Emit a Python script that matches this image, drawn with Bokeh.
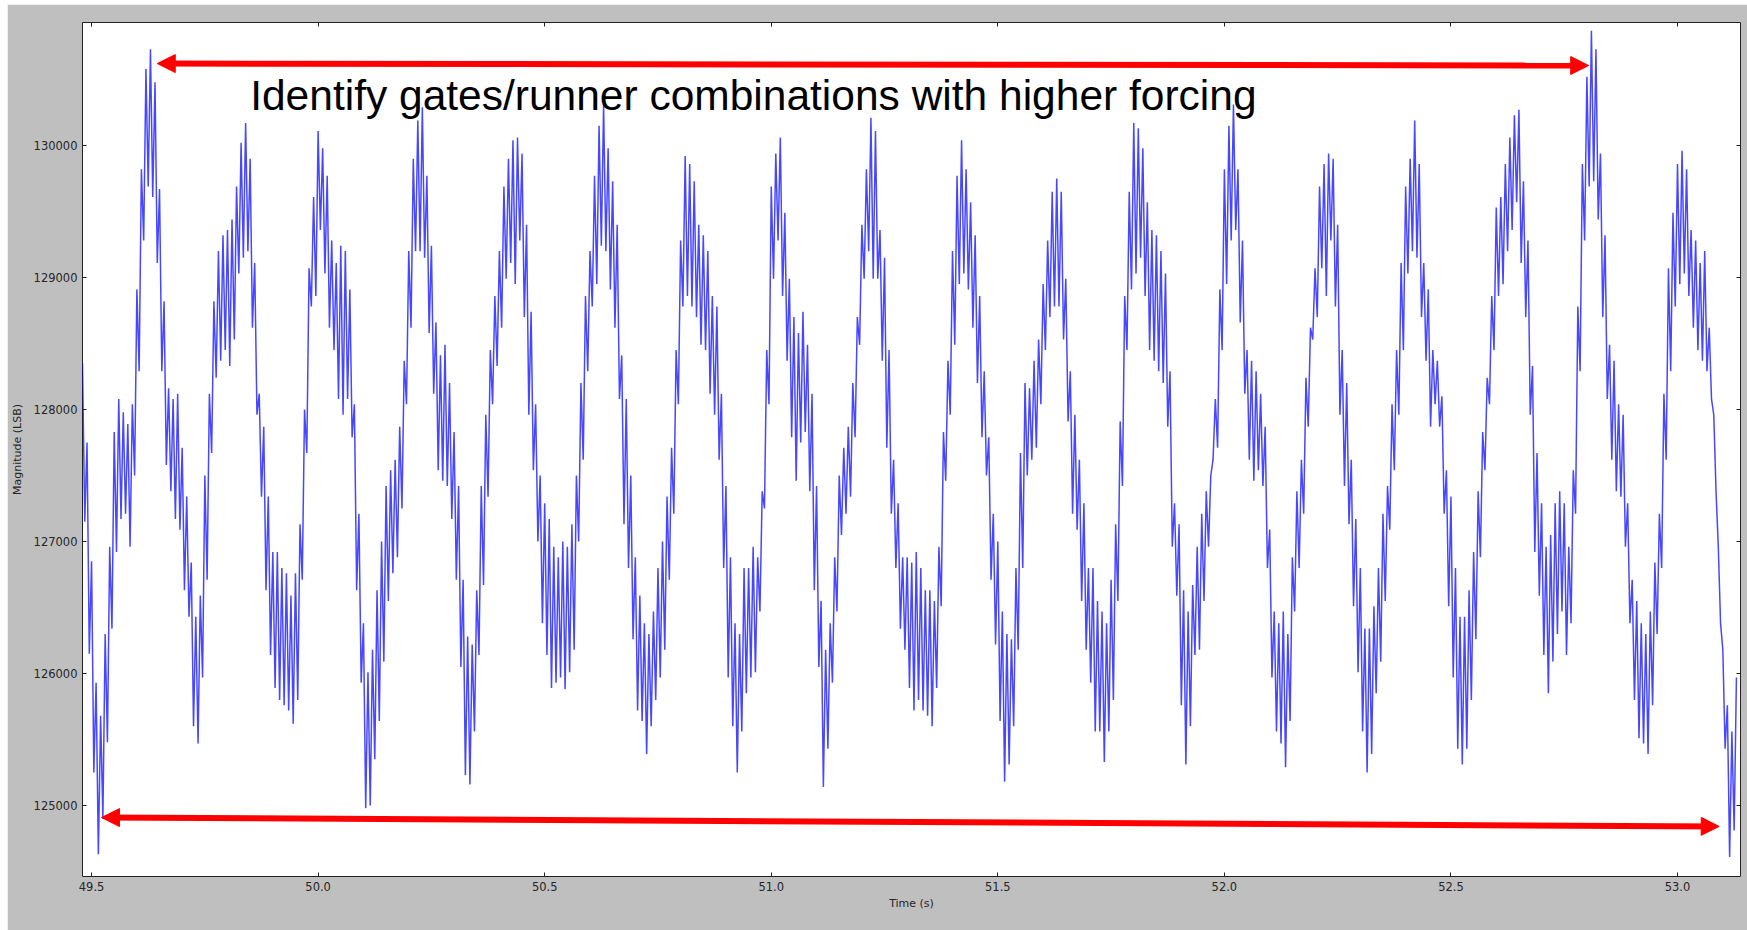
from bokeh.plotting import figure
from bokeh.models import Range1d, LinearAxis, FixedTicker, Label, Arrow, NormalHead
from bokeh.embed import file_html
from bokeh.resources import INLINE

# ---- data ----
t_start = 49.48          # s, first sample
sample_step = 0.005      # s between samples

magnitude_part1 = [
    128350, 127150, 127750, 126150, 126850, 125250, 125930, 124630, 125680, 124900,
    126300, 125480, 126960, 126340, 127830, 126920, 128080, 127170, 127980, 127210,
    127890, 126960, 128040, 127500, 128910, 128290, 129820, 129280, 130580, 129690,
    130730, 129610, 130480, 129110, 129670, 128290, 128820, 127580, 128160, 127380,
    128080, 127170, 128120, 127090, 127710, 126630, 127340, 126430, 126840, 125600,
    126430, 125470, 126590, 125970, 127500, 126710, 128120, 127670, 128820, 128240,
    129200, 128370, 129320, 128450, 129360, 128330, 129440, 128530, 129690, 129030,
    130020, 129150, 130170, 129200, 129900, 128620, 129110, 127960, 128120, 127340,
    127870, 126630, 127340, 126140, 126920, 125890, 126920, 125800, 126800, 125760,
    126760, 125720, 126590, 125620, 126760, 125800, 127130, 126710, 128000, 127670]
magnitude_part2 = [
    129070, 128780, 129610, 128860, 130110, 129360, 129980, 129030, 129770, 128620,
    129280, 128450, 129110, 128080, 129240, 127960, 129200, 128080, 128910, 127790,
    128040, 126630, 127210, 125930, 126380, 124980, 126010, 125000, 126180, 125350,
    126630, 125640, 127000, 126090, 127420, 126550, 127540, 126760, 127620, 126880,
    127870, 127250, 128370, 128040, 129200, 128620, 129900, 129200, 130190, 129200,
    130290, 129150, 129770, 128580, 129240, 128120, 128660, 127540, 128410, 127460,
    128490, 127420, 128200, 127170, 127830, 126710, 127420, 126050, 126710, 125230,
    126280, 125160, 126220, 125560, 126630, 126140, 127420, 126670, 127960, 127340,
    128450, 128040, 128860, 128330, 129200, 128620, 129690, 128990, 129900, 129110,
    130040, 128950, 130060, 129280, 129940, 128700, 129400, 127960, 128740, 127540]
magnitude_part3 = [
    128040, 127000, 127500, 126380, 127290, 126140, 127170, 125890, 126960, 125930,
    126880, 125970, 127000, 125880, 126960, 126010, 127130, 126180, 127500, 127000,
    128200, 127620, 128860, 128290, 129200, 128780, 129770, 128950, 130150, 129240,
    130310, 129200, 129980, 128910, 129730, 128620, 129400, 128080, 128410, 127130,
    128080, 126800, 127500, 126260, 126880, 125720, 126590, 125640, 126380, 125390,
    126300, 125600, 126470, 125800, 126800, 125970, 127000, 126180, 127340, 126710,
    127710, 127210, 128450, 128040, 129280, 128780, 129920, 128860, 129860, 128780,
    129730, 128700, 129400, 128490, 129320, 128450, 129200, 128120, 128860, 127960,
    128780, 127620, 128120, 126800, 127420, 125970, 126880, 125600, 126380, 125250,
    126300, 125560, 126800, 125850, 126800, 125970, 126960, 126010, 126880, 126470]
magnitude_part4 = [
    127380, 127250, 128450, 128040, 129690, 128990, 129940, 129280, 130060, 128860,
    129490, 128370, 128990, 127790, 128700, 127460, 128580, 127750, 128740, 127830,
    128490, 127380, 128120, 126630, 127420, 126050, 126550, 125140, 126180, 125430,
    126380, 125930, 126880, 126470, 127500, 127050, 127710, 127210, 127870, 127340,
    128200, 127790, 128700, 128490, 129400, 128990, 129820, 129200, 130210, 128990,
    130110, 128990, 129360, 128370, 129150, 127710, 128450, 127210, 127620, 126800,
    127290, 126340, 126880, 126180, 126880, 125890, 126840, 125720, 126920, 125800,
    126800, 125720, 126630, 125680, 126630, 125600, 126550, 125890, 126960, 126510,
    127830, 127460, 128370, 127960, 129200, 128490, 129770, 128950, 130040, 129030,
    129820, 128910, 129570, 128620, 129320, 128200, 128860, 127790, 128290, 127500]
magnitude_part5 = [
    127790, 126710, 127210, 126220, 127000, 125640, 126470, 125180, 126300, 125310,
    126260, 125600, 126800, 126180, 127670, 126800, 128200, 127500, 128160, 127620,
    128370, 127710, 128530, 128040, 128950, 128450, 129280, 128700, 129650, 128780,
    129750, 128780, 129650, 128530, 128990, 127910, 128290, 127210, 127960,
    127090, 127620, 126550, 127290, 126180, 126800, 125930, 126800, 125560, 126550,
    125560, 126470, 125330, 126380, 125560, 126710, 125800, 127130, 126550, 127910,
    127420, 128860, 128450, 129650, 128910, 130170, 129030, 130130, 129150, 129980,
    128860, 129570, 128450, 129360, 128370, 129320, 128290, 129200, 128200, 129030,
    127870, 128290, 126960, 127290, 126590, 127130, 125760, 126630, 125310, 126470,
    125600, 126670, 126140, 126960, 126180, 127210, 126550, 127380, 126960, 127500]
magnitude_part6 = [
    127620, 128080, 127710, 128910, 128450, 129820, 128950, 130150, 129280, 130310,
    129360, 129820, 128660, 129280, 128120, 128450, 127620, 128370, 127460, 128290,
    127540, 128120, 127420, 127870, 126800, 127090, 125970, 126470, 125560, 126380,
    125470, 126470, 125290, 126300, 125640, 126880, 126470, 127380, 126800, 127620,
    127210, 128240, 127870, 128620, 128530, 129070, 128700, 129690, 129070, 129860,
    128860, 129940, 129280, 129900, 128780, 129400, 127960, 128450, 127420, 128200,
    127130, 127620, 126510, 127170, 126010, 126800, 125560, 126340, 125250, 126340,
    125390, 126510, 125850, 126800, 126090, 127210, 126550, 127420, 127090, 128040,
    127540, 128450, 127960, 129110, 128450, 129690, 129030, 129900, 129200, 130190,
    129150, 129860, 128700, 129110, 128370, 128910, 127870, 128450, 128040, 128370]
magnitude_part7 = [
    127870, 128100, 127210, 127540, 126510, 127340, 125970, 126800, 125430, 126430,
    125310, 126430, 125430, 126630, 125800, 126920, 126260, 127380, 126880, 127830,
    127540, 128240, 128040, 128860, 128450, 129530, 128860, 129610, 128950, 129860,
    129200, 130060, 129360, 130230, 129570, 130270, 129110, 129730, 128700, 129280,
    127960, 128330, 126920, 127670, 126590, 127290, 126140, 126960, 125850, 127050,
    126090, 127290, 126300, 127380, 126470, 127290, 126140, 126960, 126380, 127540,
    127210, 128780, 128290, 129860, 129280, 130520, 129690, 130870, 129730, 130730,
    129440, 129940, 128700, 129320, 128080, 128490, 127620, 128370, 127380, 128040,
    127340, 127960, 126960, 127290, 126380, 126710, 125800, 126550, 125510, 126380,
    125470, 126300, 125390, 126470, 125760, 126840, 126300, 127210, 126800, 128120]
magnitude_part8 = [
    127620, 129070, 128290, 129490, 128780, 129860, 128950, 129960, 129030, 129820,
    128860, 129360, 128620, 129280, 128450, 129110, 128370, 129200, 128290, 128620,
    128080, 127960, 127380, 126960, 126380, 126180, 125430, 125760, 124610, 125560,
    124810, 125970]

x_ticks = [49.5, 50.0, 50.5, 51.0, 51.5, 52.0, 52.5, 53.0]
x_tick_labels = ["49.5", "50.0", "50.5", "51.0", "51.5", "52.0", "52.5", "53.0"]
y_ticks = [125000, 126000, 127000, 128000, 129000, 130000]
y_tick_labels = ["125000", "126000", "127000", "128000", "129000", "130000"]
x_limits = (49.48, 53.139)
y_limits = (124462, 130932)

annotation_text = "Identify gates/runner combinations with higher forcing"
annotation_pos = (49.850, 130380)
top_arrow = dict(x_start=49.645, y_start=130621, x_end=52.804, y_end=130606)
bottom_arrow = dict(x_start=49.522, y_start=124909, x_end=53.092, y_end=124841)

magnitude = (magnitude_part1 + magnitude_part2 + magnitude_part3 + magnitude_part4 +
             magnitude_part5 + magnitude_part6 + magnitude_part7 + magnitude_part8)
time_s = [t_start + sample_step * i for i in range(len(magnitude))]

# ---- figure ----
TICK_FONT = "DejaVu Sans"
p = figure(width=1740, height=926,
           x_range=Range1d(*x_limits), y_range=Range1d(*y_limits),
           output_backend="svg", toolbar_location=None,
           min_border_left=71, min_border_right=7, min_border_top=18, min_border_bottom=54)
p.margin = (4, 0, 0, 7)
p.border_fill_color = "#bfbfbf"
p.background_fill_color = "white"
p.outline_line_color = "#222222"
p.outline_line_width = 1
p.grid.visible = False

p.line(time_s, magnitude, line_color="#0000ff", line_width=1.5, line_alpha=0.72)

x_tick_map = {v: s for v, s in zip(x_ticks, x_tick_labels)}
y_tick_map = {v: s for v, s in zip(y_ticks, y_tick_labels)}

def style_axis(ax, ticks, overrides):
    ax.ticker = FixedTicker(ticks=ticks)
    ax.major_tick_in = 4
    ax.major_tick_out = 0
    ax.major_tick_line_color = "#222222"
    ax.minor_tick_line_color = None
    ax.axis_line_color = None
    ax.major_label_overrides = overrides
    ax.major_label_text_font = TICK_FONT
    ax.major_label_text_font_size = "11.5px"
    ax.major_label_text_color = "#262626"
    ax.major_label_standoff = 5

xb = p.xaxis[0]
style_axis(xb, x_ticks, x_tick_map)
xb.axis_label = "Time (s)"
xb.axis_label_text_font = TICK_FONT
xb.axis_label_text_font_size = "11px"
xb.axis_label_text_font_style = "normal"
xb.axis_label_text_color = "#262626"
xb.axis_label_standoff = 3

yl = p.yaxis[0]
style_axis(yl, y_ticks, y_tick_map)
yl.axis_label = "Magnitude (LSB)"
yl.axis_label_text_font = TICK_FONT
yl.axis_label_text_font_size = "11px"
yl.axis_label_text_font_style = "normal"
yl.axis_label_text_color = "#262626"
yl.axis_label_standoff = 7

# mirrored tick marks on the top and right edges (no labels)
xt = LinearAxis()
style_axis(xt, x_ticks, {v: "" for v in x_ticks})
xt.major_label_standoff = 0
p.add_layout(xt, "above")
yr = LinearAxis()
style_axis(yr, y_ticks, {v: "" for v in y_ticks})
yr.major_label_standoff = 0
p.add_layout(yr, "right")

p.add_layout(Label(x=annotation_pos[0], y=annotation_pos[1], text=annotation_text,
                   text_font="Liberation Sans", text_font_size="42.5px",
                   text_color="black", text_baseline="alphabetic"))

for arr in (top_arrow, bottom_arrow):
    p.add_layout(Arrow(start=NormalHead(size=18, fill_color="#ff0000", line_color="#ff0000"),
                       end=NormalHead(size=18, fill_color="#ff0000", line_color="#ff0000"),
                       line_color="#ff0000", line_width=6, **arr))

open("out.html", "w").write(file_html(p, INLINE))
